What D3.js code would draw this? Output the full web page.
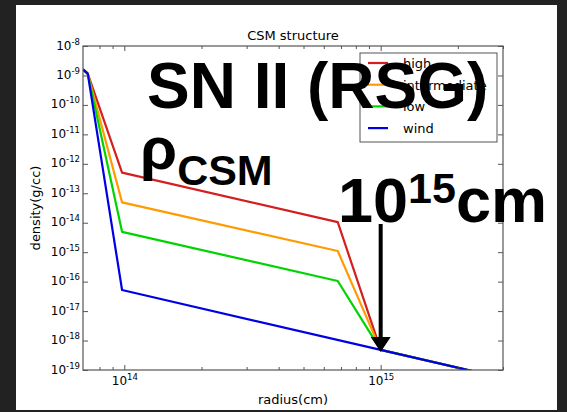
<!DOCTYPE html>
<html>
<head>
<meta charset="utf-8">
<script src="https://cdn.jsdelivr.net/npm/d3@7"></script>
<style>
  html, body { margin: 0; padding: 0; background: #222222; }
  svg { display: block; }
</style>
</head>
<body>
<svg id="chart" width="567" height="412"></svg>
<script>
// CSM density profiles, radius in cm, density in g/cc
const seriesNames = ["high", "intermediate", "low", "wind"];
const seriesColors = ["#d41f1f", "#ff9a00", "#00d400", "#0000e6"];

const radiusHigh = [6.9e13, 7.2e13, 9.8e13, 6.8e14, 1.0e15, 3.0e15];
const densityHigh = [1.6e-9, 1.15e-9, 5.0e-13, 1.05e-14, 4.8e-19, 5.3e-20];

const radiusIntermediate = [6.9e13, 7.2e13, 9.8e13, 6.8e14, 1.0e15, 3.0e15];
const densityIntermediate = [1.6e-9, 1.15e-9, 4.9e-14, 1.1e-15, 4.8e-19, 5.3e-20];

const radiusLow = [6.9e13, 7.2e13, 9.8e13, 6.8e14, 1.0e15, 3.0e15];
const densityLow = [1.6e-9, 1.15e-9, 4.9e-15, 1.05e-16, 4.8e-19, 5.3e-20];

const radiusWind = [6.9e13, 7.2e13, 9.8e13, 1.0e15, 3.0e15];
const densityWind = [1.6e-9, 1.15e-9, 5.2e-17, 4.8e-19, 5.3e-20];

const yTickExponents = [-8, -9, -10, -11, -12, -13, -14, -15, -16, -17, -18, -19];
const xTickExponents = [14, 15];
const xMinorTicks = [8e13, 9e13, 2e14, 3e14, 4e14, 5e14, 6e14, 7e14, 8e14, 9e14, 2e15, 3e15];

const titleText = "CSM structure";
const xLabel = "radius(cm)";
const yLabel = "density(g/cc)";

const series = [
  { name: seriesNames[0], color: seriesColors[0], r: radiusHigh, rho: densityHigh },
  { name: seriesNames[1], color: seriesColors[1], r: radiusIntermediate, rho: densityIntermediate },
  { name: seriesNames[2], color: seriesColors[2], r: radiusLow, rho: densityLow },
  { name: seriesNames[3], color: seriesColors[3], r: radiusWind, rho: densityWind }
];

const svg = d3.select("#chart");
const W = 567, H = 412;
const plot = { left: 83, top: 46, right: 503, bottom: 370 };

// dark surround and white figure sheet
svg.append("rect").attr("width", W).attr("height", H).attr("fill", "#222222");
svg.append("rect").attr("x", 16).attr("y", 5).attr("width", 541).attr("height", 405).attr("fill", "#ffffff");

const x = d3.scaleLog().domain([6.9e13, 3.0e15]).range([plot.left, plot.right]);
const y = d3.scaleLog().domain([1e-19, 1e-8]).range([plot.bottom, plot.top]);

const font = "'DejaVu Sans', sans-serif";
const axisColor = "#555555";

svg.append("clipPath").attr("id", "plotClip")
  .append("rect")
  .attr("x", plot.left).attr("y", plot.top)
  .attr("width", plot.right - plot.left).attr("height", plot.bottom - plot.top);

// data lines
const line = d3.line().x(d => x(d[0])).y(d => y(d[1]));
const lines = svg.append("g").attr("clip-path", "url(#plotClip)");
series.forEach(s => {
  lines.append("path")
    .datum(s.r.map((r, i) => [r, s.rho[i]]))
    .attr("d", line)
    .attr("fill", "none")
    .attr("stroke", s.color)
    .attr("stroke-width", 2.2)
    .attr("stroke-linejoin", "round");
});

// axes: ticks pointing inward on all four sides
function styleAxis(g) {
  g.select(".domain").remove();
  g.selectAll(".tick line").attr("stroke", axisColor);
}
const yDecades = yTickExponents.map(e => Math.pow(10, e));
const xDecades = xTickExponents.map(e => Math.pow(10, e));

const gLeft = svg.append("g").attr("transform", `translate(${plot.left},0)`)
  .call(d3.axisLeft(y).tickValues(yDecades).tickSizeInner(-5).tickSizeOuter(0).tickPadding(3))
  .call(styleAxis);
svg.append("g").attr("transform", `translate(${plot.right},0)`)
  .call(d3.axisRight(y).tickValues(yDecades).tickSizeInner(-5).tickSizeOuter(0).tickFormat(""))
  .call(styleAxis);
const gBottom = svg.append("g").attr("transform", `translate(0,${plot.bottom})`)
  .call(d3.axisBottom(x).tickValues(xDecades).tickSizeInner(-5).tickSizeOuter(0))
  .call(styleAxis);
svg.append("g").attr("transform", `translate(0,${plot.top})`)
  .call(d3.axisTop(x).tickValues(xDecades).tickSizeInner(-5).tickSizeOuter(0).tickFormat(""))
  .call(styleAxis);
svg.append("g").attr("transform", `translate(0,${plot.bottom})`)
  .call(d3.axisBottom(x).tickValues(xMinorTicks.filter(v => v <= x.domain()[1])).tickSizeInner(-3).tickSizeOuter(0).tickFormat(""))
  .call(styleAxis);
svg.append("g").attr("transform", `translate(0,${plot.top})`)
  .call(d3.axisTop(x).tickValues(xMinorTicks.filter(v => v <= x.domain()[1])).tickSizeInner(-3).tickSizeOuter(0).tickFormat(""))
  .call(styleAxis);

// power-of-ten tick labels with superscript exponents
function powerLabel(textSel, exps) {
  textSel.each(function (d, i) {
    const t = d3.select(this);
    t.text(null);
    t.append("tspan").text("10");
    t.append("tspan").attr("dy", -5).attr("font-size", 8.5).text(String(exps[i]));
  });
}
gLeft.selectAll(".tick text")
  .attr("x", -3).attr("dy", null).attr("y", 3)
  .attr("font-family", font).attr("font-size", 12).attr("fill", "#000")
  .call(powerLabel, yTickExponents);
gBottom.selectAll(".tick text")
  .attr("dy", null).attr("y", 15)
  .attr("font-family", font).attr("font-size", 12).attr("fill", "#000")
  .call(powerLabel, xTickExponents);

// frame
svg.append("rect")
  .attr("x", plot.left).attr("y", plot.top)
  .attr("width", plot.right - plot.left).attr("height", plot.bottom - plot.top)
  .attr("fill", "none").attr("stroke", axisColor).attr("stroke-width", 1.2);

// title and axis labels
svg.append("text").attr("x", (plot.left + plot.right) / 2).attr("y", 40)
  .attr("text-anchor", "middle").attr("font-family", font).attr("font-size", 13)
  .text(titleText);
svg.append("text").attr("x", (plot.left + plot.right) / 2).attr("y", 404)
  .attr("text-anchor", "middle").attr("font-family", font).attr("font-size", 13)
  .text(xLabel);
svg.append("text")
  .attr("transform", `translate(40,${(plot.top + plot.bottom) / 2}) rotate(-90)`)
  .attr("text-anchor", "middle").attr("font-family", font).attr("font-size", 13)
  .text(yLabel);

// legend
const legend = svg.append("g");
legend.append("rect").attr("x", 360).attr("y", 53).attr("width", 137).attr("height", 89)
  .attr("fill", "#ffffff").attr("stroke", axisColor).attr("stroke-width", 1);
series.forEach((s, i) => {
  const ly = 63 + i * 21.7;
  legend.append("line").attr("x1", 368).attr("x2", 388).attr("y1", ly).attr("y2", ly)
    .attr("stroke", s.color).attr("stroke-width", 2.2);
  legend.append("text").attr("x", 403).attr("y", ly + 5)
    .attr("font-family", font).attr("font-size", 13).text(s.name);
});

// slide annotations
const bold = "'Liberation Sans', Arial, sans-serif";
svg.append("text").attr("x", 147).attr("y", 108)
  .attr("font-family", bold).attr("font-weight", "bold").attr("font-size", 64)
  .attr("fill", "#000").text("SN II (RSG)");
const rhoLabel = svg.append("text").attr("x", 140).attr("y", 169)
  .attr("font-family", bold).attr("font-weight", "bold").attr("font-size", 60).attr("fill", "#000");
rhoLabel.append("tspan").text("ρ");
rhoLabel.append("tspan").attr("dy", 16).attr("font-size", 43).text("CSM");

const radiusLabel = svg.append("text").attr("x", 338).attr("y", 222)
  .attr("font-family", bold).attr("font-weight", "bold").attr("font-size", 63).attr("fill", "#000");
radiusLabel.append("tspan").text("10");
radiusLabel.append("tspan").attr("dy", -19).attr("font-size", 43).text("15");
radiusLabel.append("tspan").attr("dy", 19).text("cm");

// arrow pointing at 1e15 cm
const ax = x(1e15);
const tipY = 352;
svg.append("line").attr("x1", ax).attr("x2", ax).attr("y1", 224).attr("y2", tipY - 12)
  .attr("stroke", "#000").attr("stroke-width", 4);
svg.append("path")
  .attr("d", `M${ax - 10},${tipY - 15} L${ax + 10},${tipY - 15} L${ax},${tipY} Z`)
  .attr("fill", "#000");
</script>
</body>
</html>
